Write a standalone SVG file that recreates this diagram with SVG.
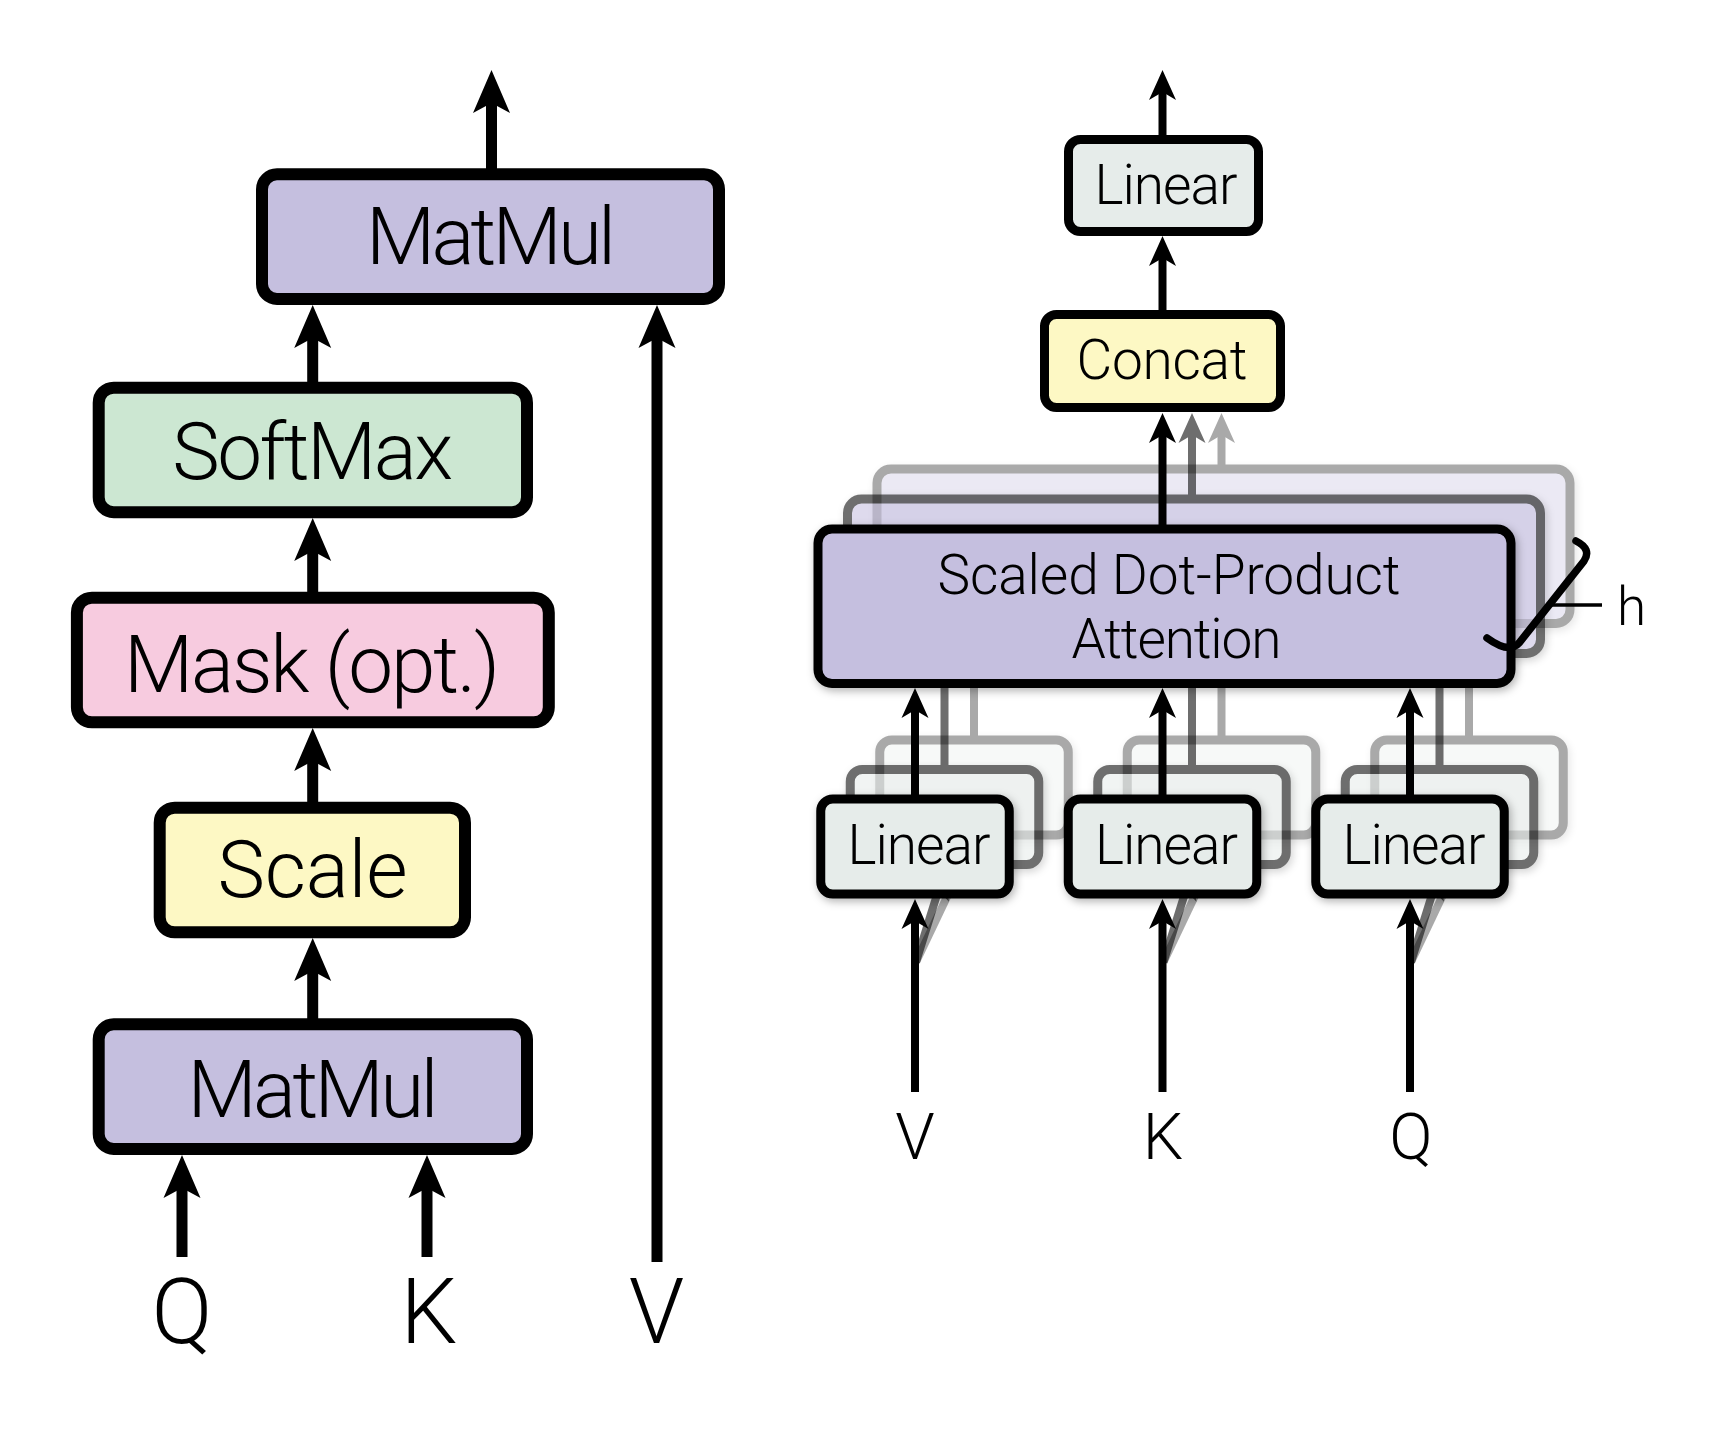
<svg xmlns="http://www.w3.org/2000/svg" width="1721" height="1440" viewBox="0 0 1721 1440">
<style>
.bl{stroke:#000;stroke-width:12}
.br{stroke:#000;stroke-width:9}
.purple{fill:#c5bfdf}
.green{fill:#cce7d2}
.pink{fill:#f7cbdf}
.yellow{fill:#fdf8c4}
.lin{fill:#e6ecea}
.t{font-family:Roboto,"Liberation Sans",Arial,sans-serif;font-weight:300;fill:#000;text-anchor:middle}
.tl{font-size:80px}
.tr{font-size:55px}
.sl{stroke:#000;stroke-width:11;fill:none;marker-end:url(#hL)}
.sr{stroke:#000;stroke-width:8;fill:none;marker-end:url(#hR)}
.sh{filter:url(#shadow)}
</style>
<defs>
<marker id="hL" markerUnits="userSpaceOnUse" orient="auto" markerWidth="50" markerHeight="50" refX="0" refY="0" overflow="visible">
<path d="M20,0 L-23,-18.5 L-13,0 L-23,18.5 Z" fill="#000"/>
</marker>
<marker id="hR" markerUnits="userSpaceOnUse" orient="auto" markerWidth="40" markerHeight="40" refX="0" refY="0" overflow="visible">
<path d="M14,0 L-16,-13.5 L-8,0 L-16,13.5 Z" fill="#000"/>
</marker>
<filter id="shadow" x="-15%" y="-15%" width="135%" height="150%">
<feDropShadow dx="2" dy="3" stdDeviation="4" flood-color="#000" flood-opacity="0.3"/>
</filter>
</defs>
<rect width="1721" height="1440" fill="#fff"/>

<!-- ===== Left: Scaled Dot-Product Attention ===== -->
<g id="left-connectors">
<line class="sl" x1="491.5" y1="170" x2="491.5" y2="90"/>
<line class="sl" x1="312.7" y1="383" x2="312.7" y2="325"/>
<line class="sl" x1="312.7" y1="593" x2="312.7" y2="538"/>
<line class="sl" x1="312.7" y1="803" x2="312.7" y2="748"/>
<line class="sl" x1="312.7" y1="1020" x2="312.7" y2="958"/>
<line class="sl" x1="182" y1="1257" x2="182" y2="1175"/>
<line class="sl" x1="427" y1="1257" x2="427" y2="1175"/>
<line class="sl" x1="657" y1="1262" x2="657" y2="325"/>
</g>
<g id="matmul-top">
<rect class="bl purple" x="262" y="174.3" width="457" height="124.7" rx="15"/>
<text class="t tl" x="491" y="264" textLength="250">MatMul</text>
</g>
<g id="softmax">
<rect class="bl green" x="98.7" y="387.7" width="428.3" height="124.5" rx="15"/>
<text class="t tl" x="312.7" y="479" textLength="281">SoftMax</text>
</g>
<g id="mask">
<rect class="bl pink" x="76.9" y="597.7" width="471.9" height="124.6" rx="15"/>
<text class="t tl" x="312" y="691.5" textLength="376">Mask (opt.)</text>
</g>
<g id="scale">
<rect class="bl yellow" x="159.7" y="807.7" width="305.3" height="124.6" rx="15"/>
<text class="t tl" x="312.6" y="896.5" textLength="190">Scale</text>
</g>
<g id="matmul-bottom">
<rect class="bl purple" x="98.7" y="1024.3" width="428.3" height="124.7" rx="15"/>
<text class="t tl" x="313" y="1117" textLength="251">MatMul</text>
</g>
<g id="left-inputs">
<text class="t" style="font-size:90px" x="182" y="1343">Q</text>
<text class="t" style="font-size:90px" x="429" y="1343">K</text>
<text class="t" style="font-size:90px" x="656.5" y="1343">V</text>
</g>

<!-- ===== Right: Multi-Head Attention ===== -->
<!-- head 3 (back, lightest) -->
<g id="head3" opacity="0.34">
<g id="sdpa-3"><rect class="br purple sh" x="877" y="469" width="693" height="154.5" rx="14"/></g>
<g id="linear-v-3"><rect class="br lin sh" x="879.75" y="740" width="188.5" height="95" rx="12"/></g>
<g id="linear-k-3"><rect class="br lin sh" x="1127.25" y="740" width="188.5" height="95" rx="12"/></g>
<g id="linear-q-3"><rect class="br lin sh" x="1374.75" y="740" width="188.5" height="95" rx="12"/></g>
<g id="connectors-3">
<line class="sr" x1="1221.5" y1="465" x2="1221.5" y2="427"/>
<line class="sr" x1="974" y1="736" x2="974" y2="642.5"/>
<line class="sr" x1="1221.5" y1="736" x2="1221.5" y2="642.5"/>
<line class="sr" x1="1469" y1="736" x2="1469" y2="642.5"/>
<line class="sr" x1="916" y1="962" x2="968.2" y2="852.3"/>
<line class="sr" x1="1163.5" y1="962" x2="1215.7" y2="852.3"/>
<line class="sr" x1="1411" y1="962" x2="1463.2" y2="852.3"/>
</g>
</g>
<!-- head 2 (middle) -->
<g id="head2" opacity="0.57">
<g id="sdpa-2"><rect class="br purple sh" x="847.5" y="499" width="693" height="154.5" rx="14"/></g>
<g id="linear-v-2"><rect class="br lin sh" x="850.25" y="769.5" width="188.5" height="95" rx="12"/></g>
<g id="linear-k-2"><rect class="br lin sh" x="1097.75" y="769.5" width="188.5" height="95" rx="12"/></g>
<g id="linear-q-2"><rect class="br lin sh" x="1345.25" y="769.5" width="188.5" height="95" rx="12"/></g>
<g id="connectors-2">
<line class="sr" x1="1192" y1="495" x2="1192" y2="427"/>
<line class="sr" x1="944.5" y1="765" x2="944.5" y2="672"/>
<line class="sr" x1="1192" y1="765" x2="1192" y2="672"/>
<line class="sr" x1="1439.5" y1="765" x2="1439.5" y2="672"/>
<line class="sr" x1="916" y1="962" x2="940.8" y2="882.5"/>
<line class="sr" x1="1163.5" y1="962" x2="1188.3" y2="882.5"/>
<line class="sr" x1="1411" y1="962" x2="1435.8" y2="882.5"/>
</g>
</g>
<!-- head 1 (front) -->
<g id="right-connectors">
<line class="sr" x1="1162.5" y1="136" x2="1162.5" y2="84"/>
<line class="sr" x1="1162.5" y1="311" x2="1162.5" y2="250"/>
<line class="sr" x1="1162.5" y1="525" x2="1162.5" y2="427"/>
<line class="sr" x1="915" y1="795" x2="915" y2="702"/>
<line class="sr" x1="1162.5" y1="795" x2="1162.5" y2="702"/>
<line class="sr" x1="1410" y1="795" x2="1410" y2="702"/>
<line class="sr" x1="915" y1="1092" x2="915" y2="913"/>
<line class="sr" x1="1162.5" y1="1092" x2="1162.5" y2="913"/>
<line class="sr" x1="1410" y1="1092" x2="1410" y2="913"/>
</g>
<g id="linear-out">
<rect class="br lin" x="1068.5" y="139.5" width="190" height="92" rx="12"/>
<text class="t tr" x="1166" y="203.5" textLength="143">Linear</text>
</g>
<g id="concat">
<rect class="br yellow" x="1044.5" y="314.5" width="236" height="93" rx="12"/>
<text class="t tr" x="1162" y="378.5" textLength="171">Concat</text>
</g>
<g id="sdpa-1">
<rect class="br purple sh" x="818" y="529" width="693" height="154.5" rx="14"/>
<text class="t tr" x="1169" y="593.5" textLength="463">Scaled Dot-Product</text>
<text class="t tr" x="1176.5" y="657.5" textLength="210">Attention</text>
</g>
<g id="linear-v-1">
<rect class="br lin sh" x="820.75" y="799" width="188.5" height="95" rx="12"/>
<text class="t tr" x="919" y="863.5" textLength="143">Linear</text>
</g>
<g id="linear-k-1">
<rect class="br lin sh" x="1068.25" y="799" width="188.5" height="95" rx="12"/>
<text class="t tr" x="1166.5" y="863.5" textLength="143">Linear</text>
</g>
<g id="linear-q-1">
<rect class="br lin sh" x="1315.75" y="799" width="188.5" height="95" rx="12"/>
<text class="t tr" x="1414" y="863.5" textLength="143">Linear</text>
</g>
<g id="heads-brace">
<path d="M1576,541 Q1592,549 1584,561 L1519,643 Q1509,654 1487,638" fill="none" stroke="#000" stroke-width="7.5" stroke-linecap="round"/>
<line x1="1549" y1="605" x2="1602" y2="605" stroke="#000" stroke-width="3.5"/>
<text class="t" style="font-size:53px;text-anchor:start" x="1617" y="625">h</text>
</g>
<g id="right-inputs">
<text class="t" style="font-size:64px" x="915" y="1159">V</text>
<text class="t" style="font-size:64px" x="1163" y="1159">K</text>
<text class="t" style="font-size:64px" x="1411" y="1159">Q</text>
</g>
</svg>
